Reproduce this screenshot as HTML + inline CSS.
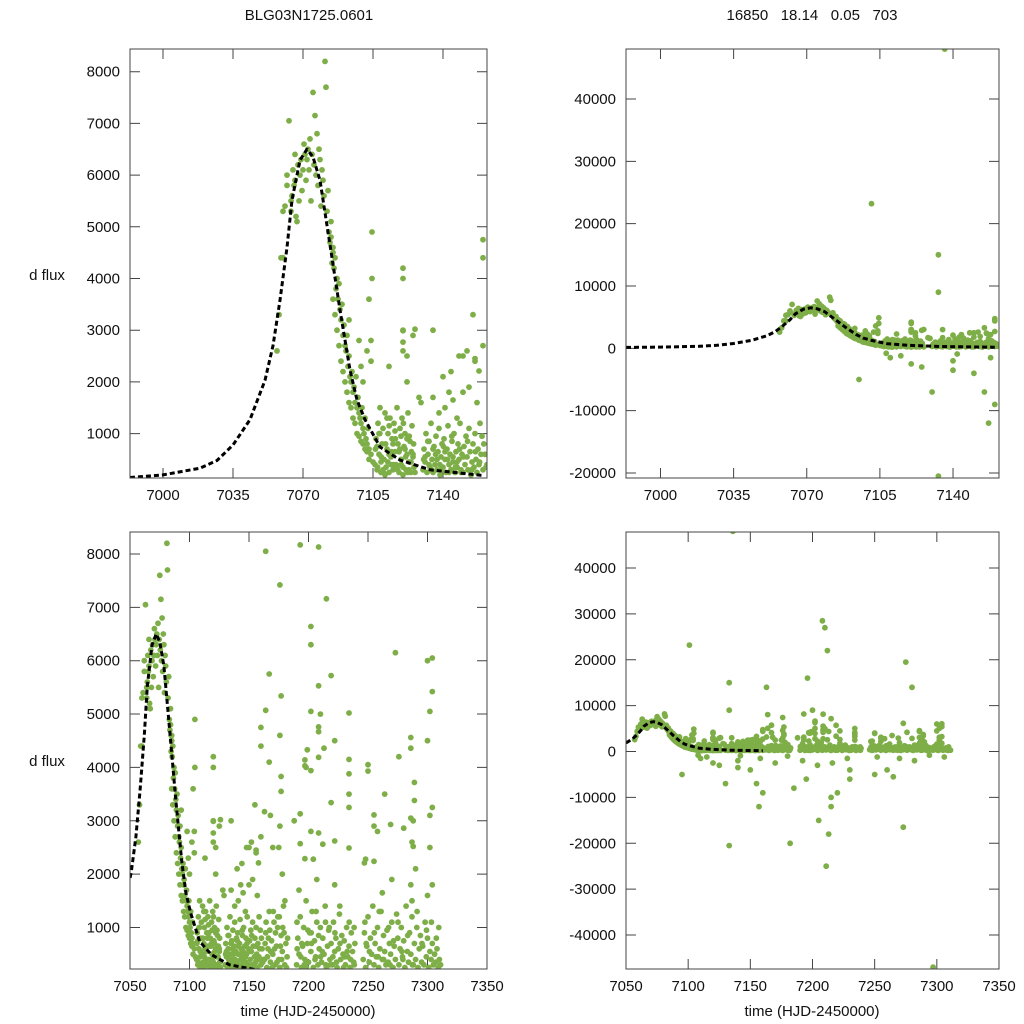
<!DOCTYPE html>
<html><head><meta charset="utf-8"><title>BLG03N1725.0601</title>
<style>
html,body{margin:0;padding:0;background:#fff;width:1024px;height:1024px;overflow:hidden;}
svg{display:block;font-family:"Liberation Sans",sans-serif;}
</style></head>
<body>
<svg id="chart" width="1024" height="1024" viewBox="0 0 1024 1024" xmlns="http://www.w3.org/2000/svg">
<rect x="0" y="0" width="1024" height="1024" fill="#fff"/>
<text x="309" y="20" font-size="15" text-anchor="middle" fill="#111">BLG03N1725.0601</text>
<text x="812" y="20" font-size="15" text-anchor="middle" fill="#111" xml:space="preserve">16850   18.14   0.05   703</text>
<text x="47" y="280" font-size="15" text-anchor="middle" fill="#111">d flux</text>
<text x="47" y="766" font-size="15" text-anchor="middle" fill="#111">d flux</text>
<text x="308" y="1016" font-size="15" text-anchor="middle" fill="#111">time (HJD-2450000)</text>
<text x="812" y="1016" font-size="15" text-anchor="middle" fill="#111">time (HJD-2450000)</text>
</svg>
<script>
// ---- model curve ----
const modelTime=[6983.5,7000,7018.5,7027,7035,7043.5,7051,7055,7058.5,7062,7064.5,7068.5,7072,7075,7078.5,7083.5,7088.5,7093.5,7097,7101,7108.5,7118.5,7133.5,7160];
const modelFlux=[150,200,330,480,780,1270,2030,2700,3580,4600,5520,6290,6500,6350,5900,4650,3390,2230,1650,1270,740,490,300,190];
// ---- observations ----
const obsTime=[
7057,7058,7059,7060,7061,7062,7063,7064,7064.5,7065,
7065.5,7066,7066.5,7067,7067.5,7068,7068.5,7069,7069.5,7070,
7070.5,7071,7071.5,7072,7072.5,7073,7073.5,7074,7074.5,7075,
7075.5,7076,7076.5,7077,7077.5,7078,7078.5,7079,7079.5,7080,
7080.5,7081,7081.5,7082,7082.5,7083,7083.5,7084,7084.5,7085,
7084,7084.5,7085,7085.5,7086,7086.5,7087,7087.5,7088,7088.5,
7089,7089.5,7090,7090.5,7091,7091.5,7092,7092.5,7093,7093.5,
7094,7094.5,7095,7095.5,7096,7096.5,7097,7097.5,7098,7098.5,
7099,7099.5,7100,7100.5,7101,7101.5,7102,7102.5,7103,7104,
7085,7086,7087,7088,7089,7090,7091,7092,7093,7094,
7095,7096,7097,7098,7099,7100,7101,7102,7103,7105,
7099,7100,7102,7104,7098,7062,7064,7066,7093,7060,
7106,7106.5,7107,7107.5,7108,7108.5,7109,7109.5,7110,7110.5,
7111,7111.5,7112,7112.5,7113,7113.5,7114,7114.5,7115,7115.5,
7116,7116.5,7117,7117.5,7118,7118.5,7119,7119.5,7120,7120.5,
7121,7121.5,7122,7122.5,7123,7123.5,7124,7124.5,7125,7125.5,
7107,7109,7111,7113,7115,7117,7119,7121,7123,7125,
7108,7110,7112,7114,7116,7118,7120,7122,7124,7126,
7104.5,7104.5,7103,7104,7120,7120,7120,7120,7125,7113,
7130,7130.5,7131,7131.5,7132,7132.5,7133,7133.5,7134,7134.5,
7135,7135.5,7136,7136.5,7137,7137.5,7138,7138.5,7139,7139.5,
7140,7140.5,7141,7141.5,7142,7142.5,7143,7143.5,7144,7144.5,
7145,7145.5,7146,7146.5,7147,7147.5,7148,7148.5,7149,7149.5,
7150,7150.5,7151,7151.5,7152,7152.5,7153,7153.5,7154,7154.5,
7155,7155.5,7156,7156.5,7157,7157.5,7158,7158.5,7159,7160,
7131,7133,7135,7137,7139,7141,7143,7145,7147,7149,
7128,7141,7150,7153,7156,7157,7160,7160,7147,7138,
7101,7133,7133,7136,7133,7157,7095,7130,7140,7160,
7163,7164,7165,7166,7167,7168,7169,7170,7171,7172,
7173,7174,7175,7176,7177,7178,7179,7180,7181,7182,
7163.5,7165.5,7167.5,7169.5,7171.5,7173.5,7175.5,7177.5,7179.5,7181.5,
7164,7176,7167,7177,7176,7164,7167,7177,7163,7176,
7177,7168,7175,7160,7178,7152,7155,7140,7143,7144,
7190,7191,7192,7193,7194,7195,7196,7197,7198,7199,
7200,7201,7202,7203,7204,7205,7206,7207,7208,7209,
7210,7211,7212,7213,7214,7215,7216,7217,7218,7219,
7220,7221,7222,7223,7224,7225,7226,7227,7228,7229,
7230,7231,7232,7233,7234,7235,7236,7237,7238,7239,
7190.5,7193.5,7196.5,7199.5,7202.5,7205.5,7208.5,7211.5,7214.5,7217.5,
7220.5,7223.5,7226.5,7229.5,7232.5,7235.5,7238.5,7192,7207,7222,
7193,7208.5,7215,7202,7202,7208.5,7202,7219,7234,7208.5,
7208.5,7199,7213,7197,7197,7202,7208.5,7234,7234,7219,
7193,7234,7202,7208.5,7193,7212,7222,7234,7197,7204,
7246,7247,7248,7249,7250,7251,7252,7253,7254,7255,
7256,7257,7258,7259,7260,7261,7262,7263,7264,7265,
7266,7267,7268,7269,7270,7271,7272,7273,7274,7275,
7276,7277,7278,7279,7280,7281,7282,7283,7284,7285,
7286,7287,7288,7289,7290,7291,7292,7293,7294,7295,
7296,7297,7298,7299,7300,7301,7302,7303,7304,7305,
7306,7307,7308,7309,7310,7311,7248.5,7258.5,7268.5,7278.5,
7273,7304,7304,7302,7286,7286,7289,7289,7250,7250,
7304,7302,7255,7255,7269,7280,7286,7287,7288,7302,
7248,7247,7255,7262,7286,7287,7304,7300,7290,7270,
7126,7120,7120,7148,7156,7158,7122,7135,7129,7145,
7163,7182,7196,7205,7208,7210,7212,7211,7213,7215,
7275,7280,7273,7297,7200,7220,7230,7250,7260,7300,
7110,7120,7125,7140,7150,7155,7185,7195,7215,7265,
7106.2,7107.3,7108.4,7109.1,7110.2,7111.3,7112.4,7113.1,7114.2,7115.3,
7116.2,7117.3,7118.4,7119.1,7120.2,7121.3,7122.4,7123.1,7124.2,7125.3,
7130.3,7132.4,7134.2,7136.3,7138.4,7140.2,7142.3,7144.4,7146.2,7148.3,
7150.2,7152.3,7154.4,7156.2,7158.3,7160.4,7161.5,7161,7159.5,7162,
7108,7115,7122,7135,7142,7150,7158,7170,7180,7188,
7192,7198,7204,7210,7216,7222,7228,7234,7252,7258,
7264,7270,7276,7282,7288,7294,7300,7306,7170,7230,
7190.3,7194.4,7198.2,7202.3,7206.4,7210.2,7214.3,7218.4,7222.2,7226.3,
7230.4,7234.2,7238.3,7247.4,7251.2,7255.3,7259.4,7263.2,7267.3,7271.4,
7275.2,7279.3,7283.4,7287.2,7291.3,7295.4,7299.2,7303.3,7307.4,7309.5,
7164.4,7166.3,7168.2,7170.4,7172.3,7174.2,7176.4,7178.3,7180.2,7182.4
];
const obsFlux=[
2600,3300,4400,5300,5400,5800,7050,5300,5600,6100,
5800,6400,5200,5100,6200,5500,6000,6300,5700,6100,
6600,6400,5900,6300,6500,6100,6700,5500,6400,7600,
6200,7150,6000,6800,5800,6500,6300,5400,6100,5900,
5600,8200,7700,5300,5700,4900,4700,5100,4600,4500,
4800,4300,4600,4200,4400,3800,4000,3600,3900,3400,
3200,3500,2900,3100,2700,2600,2900,2300,2500,2100,
2000,2200,1800,1900,1600,2100,1500,1700,1400,1300,
1200,1500,1100,1000,1300,900,800,1100,700,600,
3600,3300,3000,2700,2400,2200,2000,1800,1600,1500,
1300,1200,1000,950,850,800,700,650,500,450,
2300,2000,2600,2400,2800,6000,5500,5900,3200,4400,
400,900,300,1200,600,1500,250,800,1100,500,
1400,350,700,1000,250,1300,550,900,300,1200,
650,400,1500,800,250,1100,500,1300,350,750,
1000,300,600,1400,450,850,250,1150,550,350,
750,450,200,600,800,350,950,700,300,600,
1000,300,1300,400,1050,650,200,900,450,250,
4900,4000,3600,2800,4200,4000,3000,2600,2900,2300,
300,700,450,1000,250,600,850,350,1200,500,
250,750,400,950,300,650,1100,200,550,800,
350,900,500,250,700,1150,400,600,300,850,
450,1000,250,650,350,800,500,1200,300,600,
250,750,400,950,550,300,1100,650,200,450,
800,350,1000,500,250,700,400,1200,600,300,
550,400,700,500,300,650,250,550,450,250,
1700,1500,1800,1900,2400,1600,4750,4400,1300,1400,
23200,15000,9000,48000,-20500,-12000,-5000,-7000,-3500,-9000,
400,900,250,600,1300,350,750,500,1100,300,
650,1000,400,250,850,550,1400,300,700,450,
700,450,950,250,600,350,1200,400,900,250,
8050,7420,5750,5340,4600,5070,4100,3830,3170,2900,
3550,3100,2500,2700,2000,2600,3300,2100,1800,2200,
300,800,500,1200,250,650,1000,400,1500,700,
350,900,550,1300,250,750,450,1100,300,600,
1000,350,800,500,1400,250,650,950,400,700,
300,1100,550,800,250,600,1250,400,850,500,
750,300,1000,450,650,250,900,550,350,700,
600,450,300,950,700,400,850,550,300,1000,
450,350,700,250,550,400,300,1700,1900,1800,
8170,8130,7160,6640,6300,5530,5050,5720,5020,4760,
4670,4330,4360,4140,4030,3940,4190,4150,3880,3340,
3130,3250,2800,2770,2570,2560,2620,2490,2290,2280,
400,900,250,650,1200,350,800,500,1400,300,
700,450,1000,250,600,1300,400,850,550,300,
950,350,700,500,1100,250,650,400,1250,800,
300,600,1000,450,750,250,1400,550,350,900,
500,1200,300,700,400,1000,250,600,850,350,
650,300,1100,450,800,250,550,400,700,300,
500,350,600,250,400,300,700,450,300,550,
6150,6050,5420,5050,4560,4360,3720,3380,4050,3930,
3250,3100,3110,2900,2930,2860,3050,2600,2520,2500,
2280,2210,2240,1650,1800,1500,1800,1600,2100,1900,
3020,2990,2770,2500,2450,2210,2000,1700,1600,1650,
14000,-20000,16000,-15000,28500,27000,22000,-25000,-18000,-12000,
19500,14000,-16500,-47000,9000,-9000,-6000,-5000,-4000,6000,
-1500,-2500,-3000,-2000,-4000,-7000,-8000,-6000,-10000,-5500,
700,350,1000,550,250,800,450,1150,650,400,
900,300,700,400,1200,550,250,950,650,800,
500,850,300,600,400,750,500,950,350,700,
550,850,300,650,450,800,350,600,950,400,
-800,-1200,2500,3000,-900,2500,-1500,2500,-1000,3000,
-2000,4000,-3000,5000,-2500,4500,-1500,3500,-1200,2800,
3500,-1500,4200,-2000,3000,-800,4500,-1200,-2500,-4000,
1100,700,250,900,1300,450,1100,300,900,1400,
450,1100,1000,1100,550,900,1300,400,1000,750,
1100,400,850,300,1300,700,950,1100,800,1000,
1100,800,550,1300,900,1200,650,1000,1500,800
];
// ---- axis ticks ----
const ticksXTop=[7000,7035,7070,7105,7140];
const ticksXBottom=[7050,7100,7150,7200,7250,7300,7350];
const ticksYLeft=[1000,2000,3000,4000,5000,6000,7000,8000];
const ticksYTopRight=[-20000,-10000,0,10000,20000,30000,40000];
const ticksYBottomRight=[-40000,-30000,-20000,-10000,0,10000,20000,30000,40000];

const NS="http://www.w3.org/2000/svg";
const svg=document.getElementById('chart');
function mk(tag,attrs,parent){const e=document.createElementNS(NS,tag);for(const k in attrs)e.setAttribute(k,attrs[k]);(parent||svg).appendChild(e);return e;}

const panels=[
 {id:'top-left',x0:130,x1:487,y0:49,y1:478,xd:[6983.5,7162],yd:[141,8439],xt:ticksXTop,yt:ticksYLeft,tmax:7162,cmin:6983.5,cmax:7162},
 {id:'top-right',x0:626,x1:999,y0:49,y1:478,xd:[6983.5,7162],yd:[-20800,48020],xt:ticksXTop,yt:ticksYTopRight,tmax:7162,cmin:6983.5,cmax:7162},
 {id:'bottom-left',x0:130,x1:487,y0:532,y1:969,xd:[7050,7350],yd:[222,8412],xt:ticksXBottom,yt:ticksYLeft,tmax:9999,cmin:7050,cmax:7160},
 {id:'bottom-right',x0:626,x1:999,y0:532,y1:969,xd:[7050,7350],yd:[-47400,47850],xt:ticksXBottom,yt:ticksYBottomRight,tmax:9999,cmin:7050,cmax:7160}
];

panels.forEach(p=>{
  const sx=v=>p.x0+(v-p.xd[0])/(p.xd[1]-p.xd[0])*(p.x1-p.x0);
  const sy=v=>p.y1-(v-p.yd[0])/(p.yd[1]-p.yd[0])*(p.y1-p.y0);
  const g=mk('g',{});
  
  
  const cp=mk('clipPath',{id:'clip-'+p.id},g);
  mk('rect',{x:p.x0,y:p.y0,width:p.x1-p.x0,height:p.y1-p.y0},cp);
  p.xt.forEach(t=>{
    const x=sx(t);
    const tk=mk('path',{d:`M${x},${p.y1}V${p.y1-10}M${x},${p.y0}V${p.y0+10}`,stroke:'#444','stroke-width':1},g);
    
    
    const lb=mk('text',{x:x,y:p.y1+22,'font-size':15,'text-anchor':'middle',fill:'#111'},g);
    lb.textContent=t;
    
    
  });
  p.yt.forEach(t=>{
    const y=sy(t);
    const tk=mk('path',{d:`M${p.x0},${y}H${p.x0+10}M${p.x1},${y}H${p.x1-10}`,stroke:'#444','stroke-width':1},g);
    
    
    const lb=mk('text',{x:p.x0-10,y:y+5,'font-size':15,'text-anchor':'end',fill:'#111'},g);
    lb.textContent=t;
    
    
  });
  const pg=mk('g',{'clip-path':`url(#clip-${p.id})`,fill:'#7eae47'},g);
  
  
  for(let i=0;i<obsTime.length;i++){
    if(obsTime[i]>p.tmax)continue;
    const c=mk('circle',{cx:sx(obsTime[i]).toFixed(1),cy:sy(obsFlux[i]).toFixed(1),r:2.9},pg);
    
    
  }
  let d='';
  for(let i=0;i<modelTime.length;i++){
    let t=modelTime[i],f=modelFlux[i];
    if(t<p.cmin){
      if(i+1<modelTime.length&&modelTime[i+1]>p.cmin){const t2=modelTime[i+1],f2=modelFlux[i+1];f=f+(f2-f)*(p.cmin-t)/(t2-t);t=p.cmin;}else continue;
    }
    if(t>p.cmax)continue;
    d+=(d?'L':'M')+sx(t).toFixed(1)+','+sy(f).toFixed(1);
  }
  const cv=mk('path',{d:d,fill:'none',stroke:'#000','stroke-width':3,'stroke-dasharray':'5,3','stroke-linejoin':'round','clip-path':`url(#clip-${p.id})`},g);
  
  
  const fr=mk('rect',{x:p.x0,y:p.y0,width:p.x1-p.x0,height:p.y1-p.y0,fill:'none',stroke:'#444','stroke-width':1},g);
  
  
});
</script>
</body></html>
